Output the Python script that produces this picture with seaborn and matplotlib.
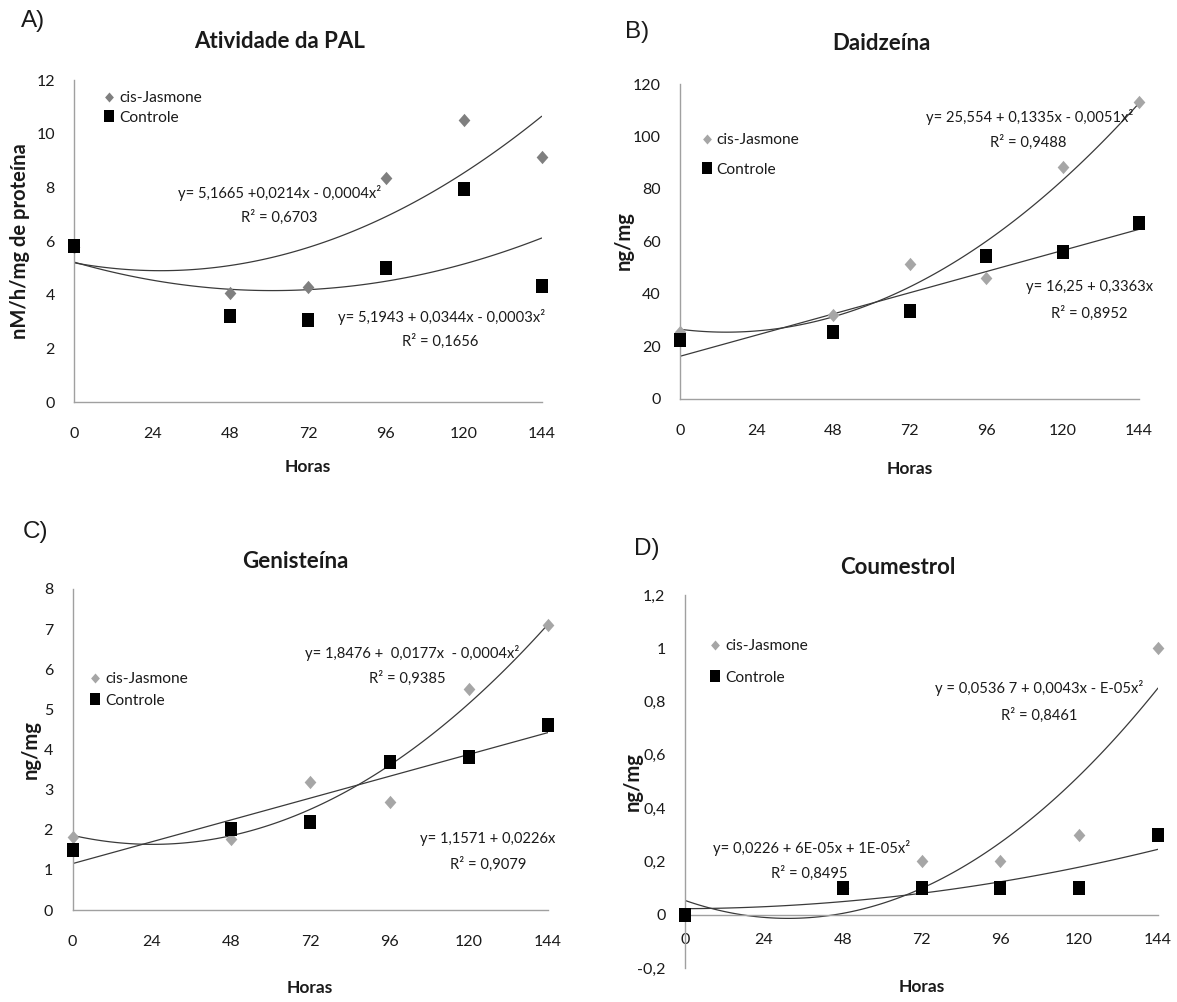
import numpy as np
import pandas as pd
import matplotlib
matplotlib.use("Agg")
import matplotlib.pyplot as plt
import seaborn as sns
from matplotlib.lines import Line2D

sns.set_theme(style="white")
plt.rcParams['font.family'] = ['Lato', 'DejaVu Sans']

# ---------------- data ----------------
horas = [0, 48, 72, 96, 120, 144]
x_ticks = [0, 24, 48, 72, 96, 120, 144]

pal_cis = [5.8, 4.07, 4.29, 8.36, 10.51, 9.12]
pal_ctrl = [5.81, 3.2, 3.08, 5.01, 7.96, 4.33]

daid_cis = [25.3, 32.0, 51.5, 46.0, 88.3, 113.1]
daid_ctrl = [22.3, 25.5, 33.4, 54.5, 55.8, 66.9]

gen_cis = [1.82, 1.76, 3.2, 2.69, 5.51, 7.11]
gen_ctrl = [1.49, 2.03, 2.19, 3.69, 3.81, 4.61]

cou_cis = [0.0, 0.1, 0.2, 0.2, 0.3, 1.0]
cou_ctrl = [0.0, 0.1, 0.1, 0.1, 0.1, 0.3]

titles = ["Atividade da PAL", "Daidzeína", "Genisteína", "Coumestrol"]
letters = ["A)", "B)", "C)", "D)"]
ylabels = ["nM/h/mg de proteína", "ng/mg", "ng/mg", "ng/mg"]
y_ticks = [[0, 2, 4, 6, 8, 10, 12],
           [0, 20, 40, 60, 80, 100, 120],
           [0, 1, 2, 3, 4, 5, 6, 7, 8],
           [-0.2, 0, 0.2, 0.4, 0.6, 0.8, 1.0, 1.2]]
y_ticklabels = [["0", "2", "4", "6", "8", "10", "12"],
                ["0", "20", "40", "60", "80", "100", "120"],
                ["0", "1", "2", "3", "4", "5", "6", "7", "8"],
                ["-0,2", "0", "0,2", "0,4", "0,6", "0,8", "1", "1,2"]]
fit_order_cis = [2, 2, 2, 2]
fit_order_ctrl = [2, 1, 1, 2]

eq_texts = [
    [("y= 5,1665 +0,0214x - 0,0004x²", "R² = 0,6703"),
     ("y= 5,1943 + 0,0344x - 0,0003x²", "R² = 0,1656")],
    [("y= 25,554 + 0,1335x - 0,0051x²", "R² = 0,9488"),
     ("y= 16,25 + 0,3363x", "R² = 0,8952")],
    [("y= 1,8476 +  0,0177x  - 0,0004x²", "R² = 0,9385"),
     ("y= 1,1571 + 0,0226x", "R² = 0,9079")],
    [("y = 0,0536 7 + 0,0043x - E-05x²", "R² = 0,8461"),
     ("y= 0,0226 + 6E-05x + 1E-05x²", "R² = 0,8495")],
]

cis_series = [pal_cis, daid_cis, gen_cis, cou_cis]
ctrl_series = [pal_ctrl, daid_ctrl, gen_ctrl, cou_ctrl]
cis_colors = ["#7f7f7f", "#a6a6a6", "#a6a6a6", "#a6a6a6"]

# ---------------- layout (pixels) ----------------
W, H = 1177, 1002
fig = plt.figure(figsize=(W / 100, H / 100), dpi=100)

# left, right, top(px of ymax), bottom(px of ymin)
boxes = [(74.3, 541.7, 80, 402.3),
         (680, 1139, 84, 398.7),
         (72.5, 548, 589, 910),
         (685, 1158, 595, 968)]
ylims = [(0, 12), (0, 120), (0, 8), (-0.2, 1.2)]

letter_pos = [(21, 21), (625, 32), (23, 532), (634, 549)]
title_pos = [(280, 41), (881, 44), (295, 561), (898, 567)]
ylabel_pos = [(20, 241), (624, 241), (31, 750), (633, 782)]
xlabel_y = [467, 469, 988, 987]
# legend: diamond centre x, row1 y, row2 y
leg_pos = [(109, 96, 120), (706.5, 138, 172), (95, 677, 703), (715, 644, 680)]
# equation text centers (px): eq x, eq y, r2 x, r2 y
eq_pos = [[(280, 193, 279, 217), (442, 317, 440, 341)],
          [(1030, 117, 1028, 142), (1090, 287, 1089, 313)],
          [(412, 653, 407, 678), (488, 839, 488, 864)],
          [(1039, 688, 1039, 715), (812, 848, 809, 873)]]

spine_col = "#a0a0a0"
text_col = "#1a1a1a"
line_col = "#3a3a3a"

# slightly tall markers, as in the reference
sq_marker = [(-0.42, -0.5), (0.42, -0.5), (0.42, 0.5), (-0.42, 0.5), (-0.42, -0.5)]
dm_marker = [(0, 0.5), (0.44, 0), (0, -0.5), (-0.44, 0), (0, 0.5)]

leg_fs = 11.2
leg_fs_px = leg_fs * 100 / 72


def fx(px):
    return px / W


def fy(py):
    return 1 - py / H


for i in range(4):
    l, r, t, b = boxes[i]
    ax = fig.add_axes([fx(l), fy(b), (r - l) / W, (b - t) / H])
    df = pd.DataFrame({"Horas": horas, "cis": cis_series[i], "ctrl": ctrl_series[i]})

    # trend lines
    sns.regplot(data=df, x="Horas", y="cis", order=fit_order_cis[i], ci=None,
                scatter=False, ax=ax, truncate=True,
                line_kws=dict(color=line_col, lw=0.9))
    sns.regplot(data=df, x="Horas", y="ctrl", order=fit_order_ctrl[i], ci=None,
                scatter=False, ax=ax, truncate=True,
                line_kws=dict(color=line_col, lw=0.9))

    # points (control squares drawn above the diamonds)
    sns.scatterplot(data=df, x="Horas", y="cis", marker=dm_marker, s=92,
                    color=cis_colors[i], edgecolor=cis_colors[i], linewidth=0,
                    ax=ax, zorder=4, clip_on=False)
    sns.scatterplot(data=df, x="Horas", y="ctrl", marker=sq_marker, s=92,
                    color="black", edgecolor="black", linewidth=0, ax=ax,
                    zorder=5, clip_on=False)

    ax.set_xlim(0, 144)
    ax.set_ylim(*ylims[i])
    ax.set_xticks(x_ticks)
    ax.set_xticklabels([str(v) for v in x_ticks])
    ax.set_yticks(y_ticks[i])
    ax.set_yticklabels(y_ticklabels[i])
    ax.set_xlabel("")
    ax.set_ylabel("")
    for s in ["top", "right"]:
        ax.spines[s].set_visible(False)
    for s in ["left", "bottom"]:
        ax.spines[s].set_color(spine_col)
        ax.spines[s].set_linewidth(1.0)
    if i == 3:
        ax.spines["bottom"].set_position(("data", 0))
    ax.tick_params(axis="both", which="major", direction="out", length=5,
                   width=1.0, color=spine_col, labelcolor=text_col, labelsize=11.5)
    ax.tick_params(axis="x", pad=13 if i != 3 else 8)
    ax.tick_params(axis="y", pad=9)
    ax.set_facecolor("none")

    # legend
    handles = [Line2D([], [], marker=dm_marker, ls="none", color=cis_colors[i],
                      markersize=7.2, markeredgewidth=0),
               Line2D([], [], marker=sq_marker, ls="none", color="black",
                      markersize=8.3, markeredgewidth=0)]
    dx, y1, y2 = leg_pos[i]
    pitch = y2 - y1
    lsp = max(0.0, (pitch - 1.2 * leg_fs_px) / leg_fs_px)
    hl = 0.8
    leg = ax.legend(handles, ["cis-Jasmone", "Controle"], loc="center left",
                    bbox_to_anchor=(fx(dx - hl * leg_fs_px / 2), fy((y1 + y2) / 2)),
                    bbox_transform=fig.transFigure,
                    frameon=False, handletextpad=0.25, handlelength=hl,
                    labelspacing=lsp, borderpad=0, borderaxespad=0,
                    fontsize=leg_fs)
    for txt in leg.get_texts():
        txt.set_color(text_col)

    # equations
    for (eq, r2), (ex, ey, rx, ry) in zip(eq_texts[i], eq_pos[i]):
        fig.text(fx(ex), fy(ey), eq, ha="center", va="center",
                 fontsize=10.6, color=text_col)
        fig.text(fx(rx), fy(ry), r2, ha="center", va="center",
                 fontsize=10.6, color=text_col)

    # titles and labels
    tx, ty = title_pos[i]
    fig.text(fx(tx), fy(ty), titles[i], ha="center", va="center",
             fontsize=16, fontweight="bold", color=text_col)
    lxp, lyp = letter_pos[i]
    fig.text(fx(lxp), fy(lyp), letters[i], ha="left", va="center",
             fontsize=17.5, color=text_col, family=["Liberation Sans", "DejaVu Sans"])
    ylx, yly = ylabel_pos[i]
    fig.text(fx(ylx), fy(yly), ylabels[i],
             ha="center", va="center", rotation=90, fontsize=14.5,
             fontweight="bold", color=text_col)
    fig.text(fx((l + r) / 2), fy(xlabel_y[i]), "Horas", ha="center", va="center",
             fontsize=12.5, fontweight="bold", color=text_col)

fig.savefig("out.png", dpi=100)
